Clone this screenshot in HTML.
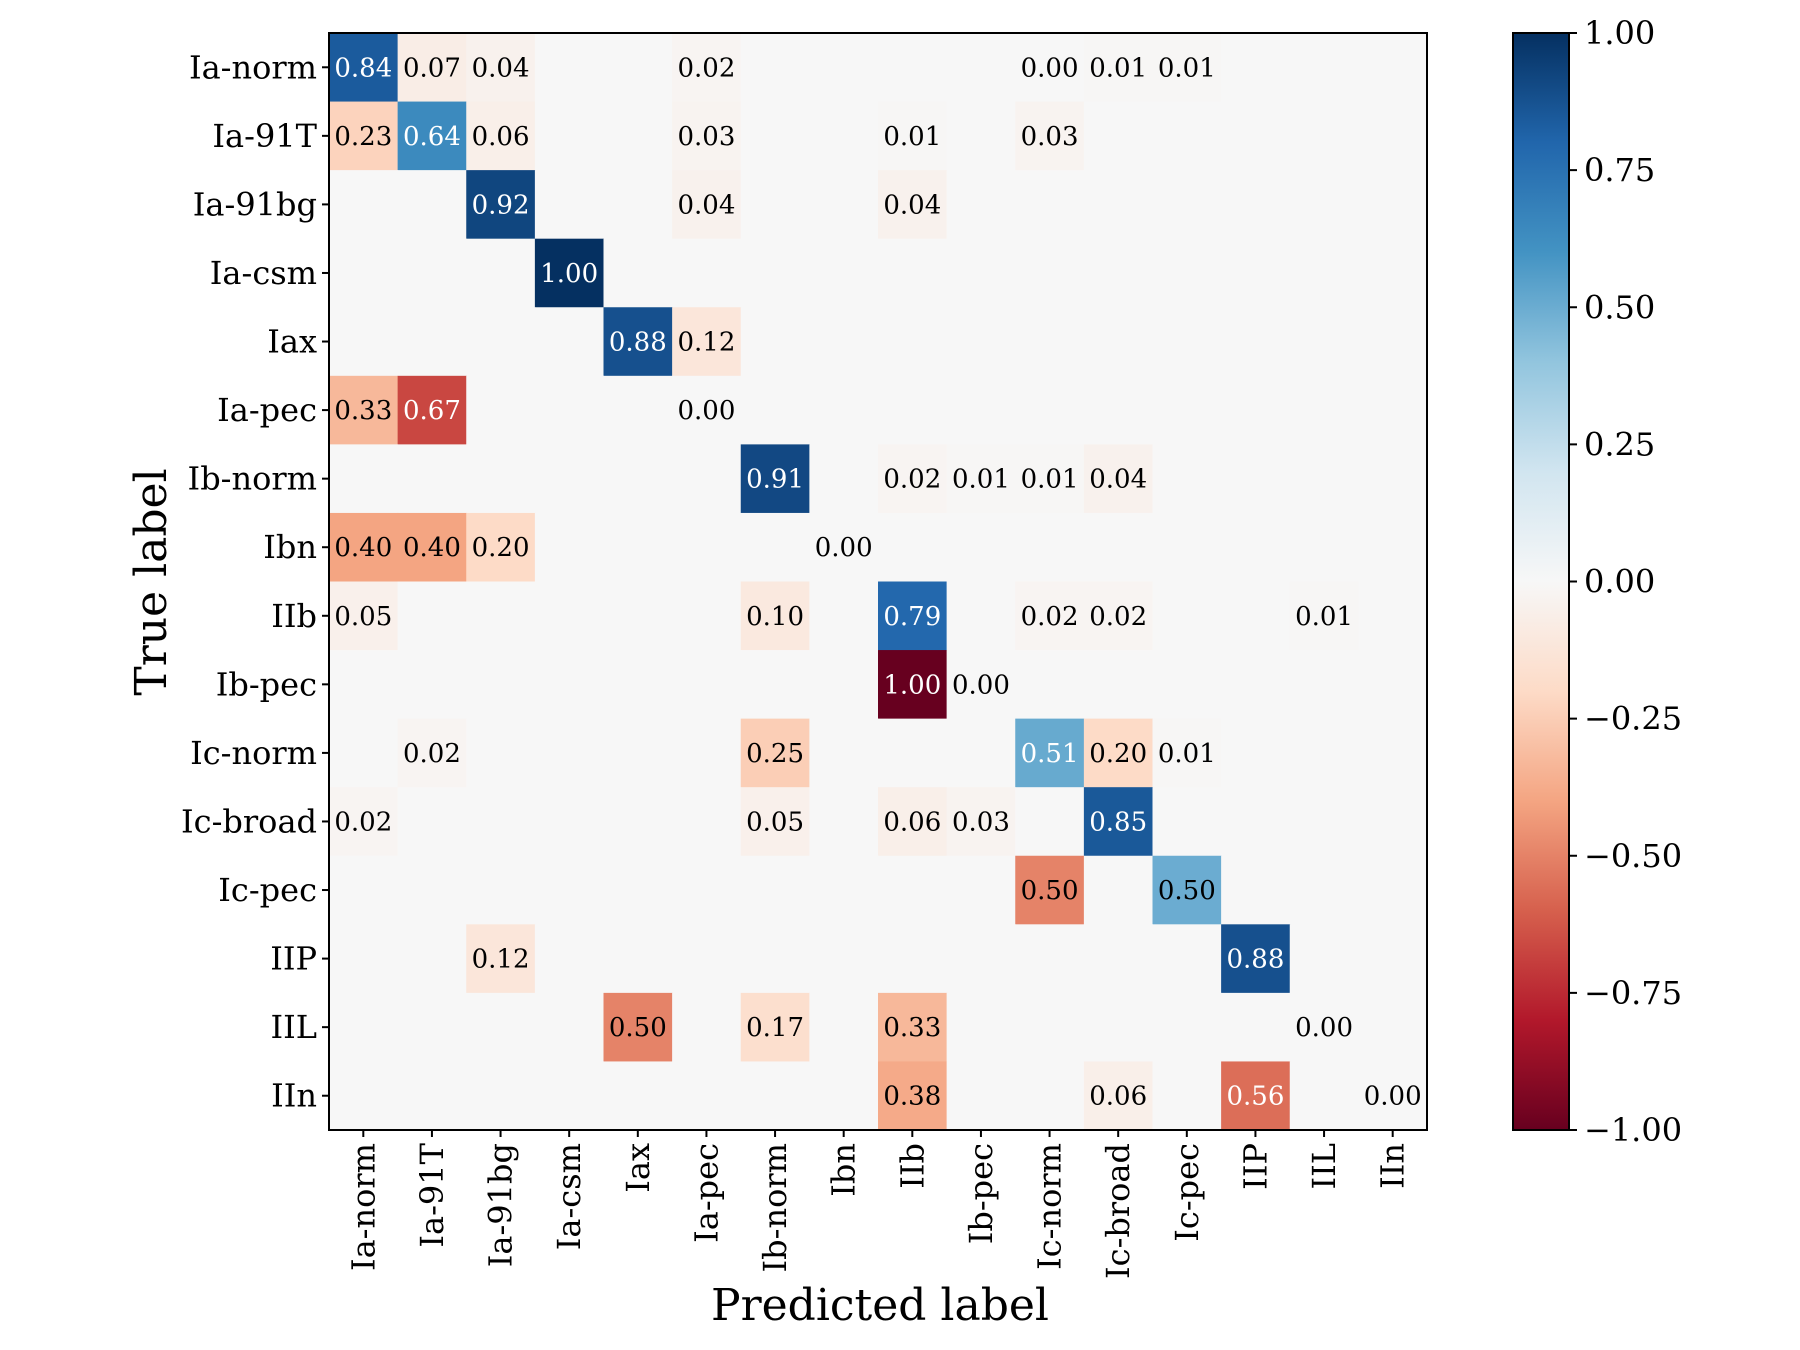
<!DOCTYPE html>
<html><head><meta charset="utf-8">
<style>
html,body{margin:0;padding:0;background:#fff;}
svg{display:block;}
text{font-family:"DejaVu Serif","Liberation Serif",serif;fill:#000;}
</style></head>
<body>
<svg id="chart" width="1800" height="1350" viewBox="0 0 1800 1350" xmlns="http://www.w3.org/2000/svg">
<defs>
<linearGradient id="rdbu" x1="0" y1="1" x2="0" y2="0">
<stop offset="0" stop-color="#67001f"/><stop offset="0.1" stop-color="#b2182b"/>
<stop offset="0.2" stop-color="#d6604d"/><stop offset="0.3" stop-color="#f4a582"/>
<stop offset="0.4" stop-color="#fddbc7"/><stop offset="0.5" stop-color="#f7f7f7"/>
<stop offset="0.6" stop-color="#d1e5f0"/><stop offset="0.7" stop-color="#92c5de"/>
<stop offset="0.8" stop-color="#4393c3"/><stop offset="0.9" stop-color="#2166ac"/>
<stop offset="1" stop-color="#053061"/>
</linearGradient>
</defs>
<g id="cells"></g>
<g id="annots"></g>
<rect x="329" y="33" width="1098" height="1097" fill="none" stroke="#000" stroke-width="2"/>
<g id="yticks"></g>
<g id="xticks"></g>
<text transform="translate(166,582) rotate(-90)" text-anchor="middle" font-size="44">True label</text>
<text x="880" y="1320" text-anchor="middle" font-size="44">Predicted label</text>
<rect x="1513" y="33" width="56" height="1097" fill="url(#rdbu)" stroke="#000" stroke-width="2"/>
<g id="cbticks"></g>
</svg>
<script>
const labels = ["Ia-norm","Ia-91T","Ia-91bg","Ia-csm","Iax","Ia-pec","Ib-norm","Ibn","IIb","Ib-pec","Ic-norm","Ic-broad","Ic-pec","IIP","IIL","IIn"];
const N = null;
const row0  = [0.84,-0.07,-0.04,N,N,-0.02,N,N,N,N,-0.00,-0.01,-0.01,N,N,N];
const row1  = [-0.23,0.64,-0.06,N,N,-0.03,N,N,-0.01,N,-0.03,N,N,N,N,N];
const row2  = [N,N,0.92,N,N,-0.04,N,N,-0.04,N,N,N,N,N,N,N];
const row3  = [N,N,N,1.00,N,N,N,N,N,N,N,N,N,N,N,N];
const row4  = [N,N,N,N,0.88,-0.12,N,N,N,N,N,N,N,N,N,N];
const row5  = [-0.33,-0.67,N,N,N,0.00,N,N,N,N,N,N,N,N,N,N];
const row6  = [N,N,N,N,N,N,0.91,N,-0.02,-0.01,-0.01,-0.04,N,N,N,N];
const row7  = [-0.40,-0.40,-0.20,N,N,N,N,0.00,N,N,N,N,N,N,N,N];
const row8  = [-0.05,N,N,N,N,N,-0.10,N,0.79,N,-0.02,-0.02,N,N,-0.01,N];
const row9  = [N,N,N,N,N,N,N,N,-1.00,0.00,N,N,N,N,N,N];
const row10 = [N,-0.02,N,N,N,N,-0.25,N,N,N,0.51,-0.20,-0.01,N,N,N];
const row11 = [-0.02,N,N,N,N,N,-0.05,N,-0.06,-0.03,N,0.85,N,N,N,N];
const row12 = [N,N,N,N,N,N,N,N,N,N,-0.50,N,0.50,N,N,N];
const row13 = [N,N,-0.12,N,N,N,N,N,N,N,N,N,N,0.88,N,N];
const row14 = [N,N,N,N,-0.50,N,-0.17,N,-0.33,N,N,N,N,N,0.00,N];
const row15 = [N,N,N,N,N,N,N,N,-0.38,N,N,-0.06,N,-0.56,N,0.00];
const rows = [row0,row1,row2,row3,row4,row5,row6,row7,row8,row9,row10,row11,row12,row13,row14,row15];
const cbTicks = [1.00,0.75,0.50,0.25,0.00,-0.25,-0.50,-0.75,-1.00];

const NS="http://www.w3.org/2000/svg";
const X0=329, Y0=33, W=1098, H=1097;
const cw=W/labels.length, ch=H/labels.length;
const xPos=i=>X0+cw*i, yPos=i=>Y0+ch*i;
const cbY=v=>Y0+(1-v)/2*H;
const stops=[[103,0,31],[178,24,43],[214,96,77],[244,165,130],[253,219,199],[247,247,247],[209,229,240],[146,197,222],[67,147,195],[33,102,172],[5,48,97]];
function color(v){
  const t=(v+1)/2*10; const i=Math.min(9,Math.floor(t)); const f=t-i;
  const a=stops[i], b=stops[i+1];
  return `rgb(${a.map((c,k)=>Math.round(c+(b[k]-c)*f)).join(',')})`;
}
function mk(tag,attrs,parent){const e=document.createElementNS(NS,tag);for(const k in attrs)e.setAttribute(k,attrs[k]);parent.appendChild(e);return e;}
const gC=document.getElementById('cells'), gA=document.getElementById('annots');
rows.forEach((r,i)=>r.forEach((v,j)=>{
  const val=v===null?0:v;
  const rc=mk('rect',{x:xPos(j),y:yPos(i),width:cw+0.5,height:ch+0.5,fill:color(val)},gC);
  
  
  if(v!==null){
    const t=mk('text',{x:xPos(j)+cw/2,y:yPos(i)+ch/2+9,'text-anchor':'middle','font-size':'26'},gA);
    t.style.fill=Math.abs(v)>0.5?'#fff':'#000';
    t.textContent=Math.abs(v).toFixed(2);
    
    
  }
}));
const gY=document.getElementById('yticks'), gX=document.getElementById('xticks');
labels.forEach((l,i)=>{
  const cy=yPos(i)+ch/2;
  mk('line',{x1:X0-7,x2:X0,y1:cy,y2:cy,stroke:'#000','stroke-width':2},gY);
  const t=mk('text',{x:X0-12,y:cy+11,'text-anchor':'end','font-size':'32'},gY);
  t.textContent=l;
  
  
  const cx=xPos(i)+cw/2;
  mk('line',{x1:cx,x2:cx,y1:Y0+H,y2:Y0+H+7,stroke:'#000','stroke-width':2},gX);
  const u=mk('text',{transform:`translate(${cx+11},${Y0+H+13}) rotate(-90)`,'text-anchor':'end','font-size':'32'},gX);
  u.textContent=l;
  
  
});
const gB=document.getElementById('cbticks');
cbTicks.forEach(v=>{
  const y=cbY(v);
  mk('line',{x1:1569,x2:1577,y1:y,y2:y,stroke:'#000','stroke-width':2},gB);
  const t=mk('text',{x:1584,y:y+11,'font-size':'32'},gB);
  t.textContent=(v<0?'\u2212':'')+Math.abs(v).toFixed(2);
  
  
});
</script>
</body></html>
